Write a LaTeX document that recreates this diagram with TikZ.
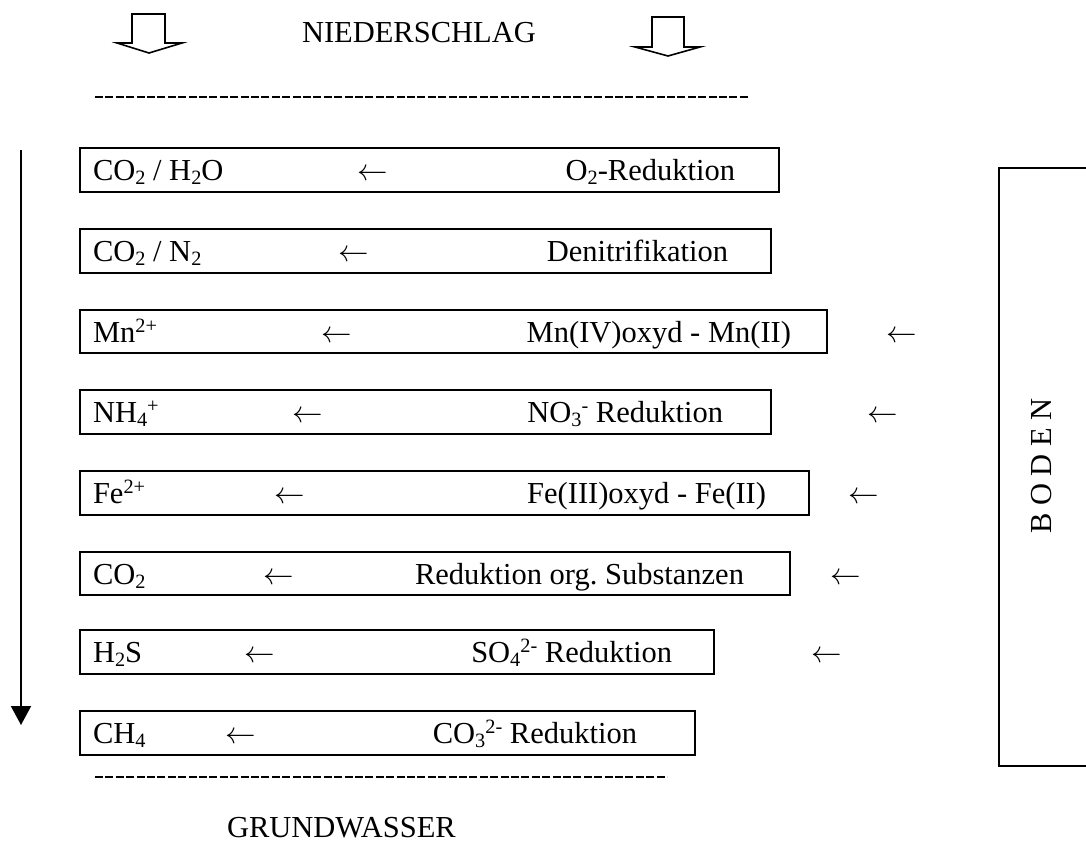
\RequirePackage{fix-cm}
\documentclass[tikz,border=0pt]{standalone}
\usepackage{fontspec}
\setmainfont{Liberation Serif}
\usetikzlibrary{arrows.meta}
\frenchspacing
\newcommand\chemlo[1]{\raisebox{-4pt}{\fontsize{20.3}{20}\selectfont #1}}
\newcommand\chemhi[1]{\raisebox{10pt}{\fontsize{20.3}{20}\selectfont #1}}
\newcommand\larr{$\leftarrow$}
\tikzset{
  lbl/.style={inner sep=0pt, outer sep=0pt, font=\fontsize{30.5}{36}\selectfont},
  rowbox/.style={draw, line width=2pt, inner sep=0pt, anchor=north west, minimum height=44pt},
  blockarrow/.style={draw, line width=1.6pt, line join=miter},
  sepline/.style={line width=2pt, dash pattern=on 8pt off 2.4pt},
}
\begin{document}
\begin{tikzpicture}[x=1pt,y=-1pt]
\useasboundingbox (0,0) rectangle (1086,843);

% top
\draw[blockarrow] (132,14) -- (165,14) -- (165,43) -- (182,43) -- (149,53) -- (117,43) -- (132,43) -- cycle;
\draw[blockarrow] (652,17) -- (684,17) -- (684,47) -- (700,47) -- (668,56) -- (635,47) -- (652,47) -- cycle;
\node[lbl, anchor=base west] (nied) at (302,43) {NIEDERSCHLAG};
\coordinate (dtA) at (95,97);
\coordinate (dtB) at (750,97);
\draw[sepline] (dtA) -- (dtB);

% rows
\node[rowbox, minimum width=699pt] (b1) at (79,147) {};
\node[lbl, anchor=base west] (l1) at (93,180) {CO\chemlo{2} / H\chemlo{2}O};
\node[lbl, anchor=base] (a1) at (373,180) {\larr};
\node[lbl, anchor=base east] (r1) at (735,180) {O\chemlo{2}-Reduktion};

\node[rowbox, minimum width=691pt] (b2) at (79,228) {};
\node[lbl, anchor=base west] (l2) at (93,261) {CO\chemlo{2} / N\chemlo{2}};
\node[lbl, anchor=base] (a2) at (354,261) {\larr};
\node[lbl, anchor=base east] (r2) at (728,261) {Denitrifikation};

\node[rowbox, minimum width=747pt, minimum height=43pt] (b3) at (79,309) {};
\node[lbl, anchor=base west] (l3) at (93,342) {Mn\chemhi{2+}};
\node[lbl, anchor=base] (a3) at (337,342) {\larr};
\node[lbl, anchor=base east] (r3) at (791,342) {Mn(IV)oxyd - Mn(II)};
\node[lbl, anchor=base] (o3) at (902,342) {\larr};

\node[rowbox, minimum width=691pt] (b4) at (79,389) {};
\node[lbl, anchor=base west] (l4) at (93,422) {NH\chemlo{4}\chemhi{+}};
\node[lbl, anchor=base] (a4) at (308,422) {\larr};
\node[lbl, anchor=base east] (r4) at (723,422) {NO\chemlo{3}\chemhi{-} Reduktion};
\node[lbl, anchor=base] (o4) at (883,422) {\larr};

\node[rowbox, minimum width=729pt] (b5) at (79,470) {};
\node[lbl, anchor=base west] (l5) at (93,503) {Fe\chemhi{2+}};
\node[lbl, anchor=base] (a5) at (290,503) {\larr};
\node[lbl, anchor=base east] (r5) at (766,503) {Fe(III)oxyd - Fe(II)};
\node[lbl, anchor=base] (o5) at (864,503) {\larr};

\node[rowbox, minimum width=710pt, minimum height=43pt] (b6) at (79,551) {};
\node[lbl, anchor=base west] (l6) at (93,584) {CO\chemlo{2}};
\node[lbl, anchor=base] (a6) at (279,584) {\larr};
\node[lbl, anchor=base east] (r6) at (744,584) {Reduktion org. Substanzen};
\node[lbl, anchor=base] (o6) at (846,584) {\larr};

\node[rowbox, minimum width=634pt] (b7) at (79,629) {};
\node[lbl, anchor=base west] (l7) at (93,662) {H\chemlo{2}S};
\node[lbl, anchor=base] (a7) at (260,662) {\larr};
\node[lbl, anchor=base east] (r7) at (672,662) {SO\chemlo{4}\chemhi{2-} Reduktion};
\node[lbl, anchor=base] (o7) at (827,662) {\larr};

\node[rowbox, minimum width=615pt] (b8) at (79,710) {};
\node[lbl, anchor=base west] (l8) at (93,743) {CH\chemlo{4}};
\node[lbl, anchor=base] (a8) at (241,743) {\larr};
\node[lbl, anchor=base east] (r8) at (637,743) {CO\chemlo{3}\chemhi{2-} Reduktion};

% left depth arrow
\coordinate (vtop) at (21,150);
\coordinate (vbot) at (21,725);
\draw[line width=2pt, -{Triangle[width=20pt,length=19pt]}] (vtop) -- (vbot);

% bottom
\coordinate (dbA) at (95,777);
\coordinate (dbB) at (667,777);
\draw[sepline] (dbA) -- (dbB);
\node[lbl, anchor=base west] (grund) at (227,837) {GRUNDWASSER};

% BODEN
\node[draw, line width=1.6pt, anchor=north west, minimum width=100pt, minimum height=598pt, inner sep=0pt] (boden) at (998,167) {};
\node[lbl, rotate=90, anchor=base] (bodentext) at (1051,466) {B O D E N};
\end{tikzpicture}
\end{document}
